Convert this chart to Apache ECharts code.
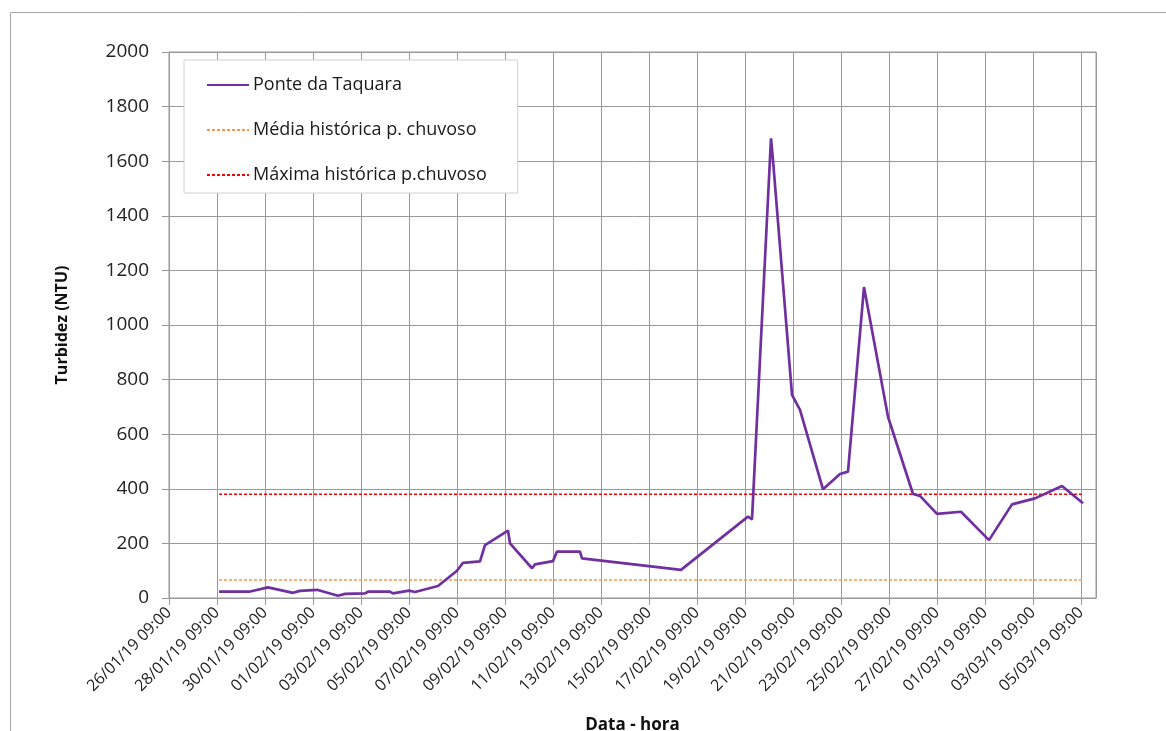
<!DOCTYPE html>
<html>
<head>
<meta charset="utf-8">
<script src="https://cdn.jsdelivr.net/npm/echarts@6/dist/echarts.min.js"></script>
<style>
html,body{margin:0;padding:0;background:#fff;}
#chart{width:1166px;height:731px;}
</style>
</head>
<body>
<div id="chart"></div>
<script>
// Sample times (dd/mm/yyyy HH:MM)
const times = [
  '28/01/2019 11:00','29/01/2019 17:00','30/01/2019 12:00','31/01/2019 13:00','31/01/2019 20:00',
  '01/02/2019 13:00','02/02/2019 10:00','02/02/2019 17:00','03/02/2019 13:00','03/02/2019 16:00',
  '04/02/2019 14:00','04/02/2019 17:00','05/02/2019 09:00','05/02/2019 15:00','06/02/2019 14:00',
  '07/02/2019 09:00','07/02/2019 15:00','08/02/2019 08:00','08/02/2019 13:00','09/02/2019 12:00',
  '09/02/2019 14:00','10/02/2019 12:00','10/02/2019 15:00','11/02/2019 09:00','11/02/2019 13:00',
  '12/02/2019 12:00','12/02/2019 14:00','16/02/2019 17:00','19/02/2019 12:00','19/02/2019 16:00',
  '20/02/2019 11:00','20/02/2019 13:00','21/02/2019 08:00','21/02/2019 16:00','22/02/2019 15:00',
  '23/02/2019 08:00','23/02/2019 16:00','24/02/2019 08:00','25/02/2019 08:00','26/02/2019 09:00',
  '26/02/2019 16:00','27/02/2019 09:00','28/02/2019 09:00','01/03/2019 13:00','02/03/2019 12:00',
  '03/03/2019 11:00','04/03/2019 14:00','05/03/2019 11:00'
];
// Turbidity, Ponte da Taquara (NTU)
const turbidez = [
  23, 23, 39, 19, 26,
  30, 8, 15, 17, 23,
  23, 17, 27, 22, 44,
  100, 129, 134, 194, 247,
  200, 109, 123, 135, 170,
  170, 145, 103, 298, 288,
  1684, 1604, 744, 689, 398,
  454, 463, 1139, 664, 381,
  374, 308, 316, 212, 343,
  365, 410, 347
];
const mediaHistorica = 66;
const maximaHistorica = 380;
const xTickLabels = [
  '26/01/19 09:00','28/01/19 09:00','30/01/19 09:00','01/02/19 09:00','03/02/19 09:00',
  '05/02/19 09:00','07/02/19 09:00','09/02/19 09:00','11/02/19 09:00','13/02/19 09:00',
  '15/02/19 09:00','17/02/19 09:00','19/02/19 09:00','21/02/19 09:00','23/02/19 09:00',
  '25/02/19 09:00','27/02/19 09:00','01/03/19 09:00','03/03/19 09:00','05/03/19 09:00'
];
const axisStart = '26/01/2019 09:00';
const axisEnd = '06/03/2019 00:00';
const yTicks = [0, 200, 400, 600, 800, 1000, 1200, 1400, 1600, 1800, 2000];

function parseT(s) {
  const [d, t] = s.split(' ');
  const [dd, mm, yy] = d.split('/').map(Number);
  const [hh, mi] = t.split(':').map(Number);
  return Date.UTC(yy, mm - 1, dd, hh, mi);
}
const base = parseT(axisStart);
const DAY = 86400000;
const toDays = s => (parseT(s) - base) / DAY;

const mainData = times.map((t, i) => [toDays(t), turbidez[i]]);
const x0 = toDays(times[0]), x1 = toDays(times[times.length - 1]);
const mediaData = [[x0, mediaHistorica], [x1, mediaHistorica]];
const maxData = [[x0, maximaHistorica], [x1, maximaHistorica]];

const FONT = 'Open Sans';
const grey = '#999999';
const chart = echarts.init(document.getElementById('chart'));
chart.setOption({
  animation: false,
  backgroundColor: '#fff',
  graphic: [{
    type: 'rect', left: 10, top: 12, silent: true, z: -10,
    shape: { width: 1200, height: 800 },
    style: { fill: '#fff', stroke: '#a6a6a6', lineWidth: 1 }
  }],
  grid: {
    left: 169, top: 52, width: 927, height: 546, show: true,
    borderColor: grey, borderWidth: 1, containLabel: false, outerBoundsMode: 'none'
  },
  legend: {
    orient: 'vertical', left: 184, top: 60,
    backgroundColor: '#fff', borderColor: '#d0d0d0', borderWidth: 1,
    padding: [15, 31, 8, 22],
    itemWidth: 42, itemHeight: 20, itemGap: 25,
    itemStyle: { opacity: 0 },
    textStyle: { fontFamily: FONT, fontSize: 18, color: '#1a1a1a', lineHeight: 20, padding: [0, 0, 0, -1] },
    data: ['Ponte da Taquara', 'Média histórica p. chuvoso', 'Máxima histórica p.chuvoso']
  },
  xAxis: {
    type: 'value', min: 0, max: toDays(axisEnd), interval: 2,
    name: 'Data - hora', nameLocation: 'middle', nameGap: 119, nameMoveOverlap: false,
    nameTextStyle: { fontFamily: FONT, fontSize: 17, fontWeight: 'bold', color: '#111' },
    axisLine: { show: true, lineStyle: { color: grey, width: 1 } },
    axisTick: { show: true, length: 7, lineStyle: { color: grey } },
    splitLine: { show: true, lineStyle: { color: grey, width: 1 } },
    axisLabel: {
      rotate: 45, margin: 12, fontFamily: FONT, fontSize: 16, color: '#222',
      showMaxLabel: false,
      formatter: v => {
        const i = Math.round(v / 2);
        if (Math.abs(v - i * 2) > 1e-6) return '';
        return xTickLabels[i] || '';
      }
    }
  },
  yAxis: {
    type: 'value', min: yTicks[0], max: yTicks[yTicks.length - 1], interval: 200,
    name: 'Turbidez (NTU)', nameLocation: 'middle', nameGap: 99, nameMoveOverlap: false,
    nameTextStyle: { fontFamily: FONT, fontSize: 16, fontWeight: 'bold', color: '#111' },
    axisLine: { show: true, lineStyle: { color: grey, width: 1 } },
    axisTick: { show: true, length: 7, lineStyle: { color: grey } },
    splitLine: { show: true, lineStyle: { color: grey, width: 1 } },
    axisLabel: { margin: 20, fontFamily: FONT, fontSize: 19, color: '#222', formatter: v => String(v) }
  },
  series: [
    {
      name: 'Ponte da Taquara', type: 'line', data: mainData,
      symbol: 'none', lineStyle: { color: '#7030A0', width: 2.7 }, itemStyle: { color: '#7030A0' }, z: 5
    },
    {
      name: 'Média histórica p. chuvoso', type: 'line', data: mediaData,
      symbol: 'none', lineStyle: { color: '#F79646', width: 1.3, type: [3, 2] }, itemStyle: { color: '#F79646' }
    },
    {
      name: 'Máxima histórica p.chuvoso', type: 'line', data: maxData,
      symbol: 'none', lineStyle: { color: '#FF0000', width: 1.3, type: [3, 2] }, itemStyle: { color: '#FF0000' }
    }
  ]
});
</script>
</body>
</html>
